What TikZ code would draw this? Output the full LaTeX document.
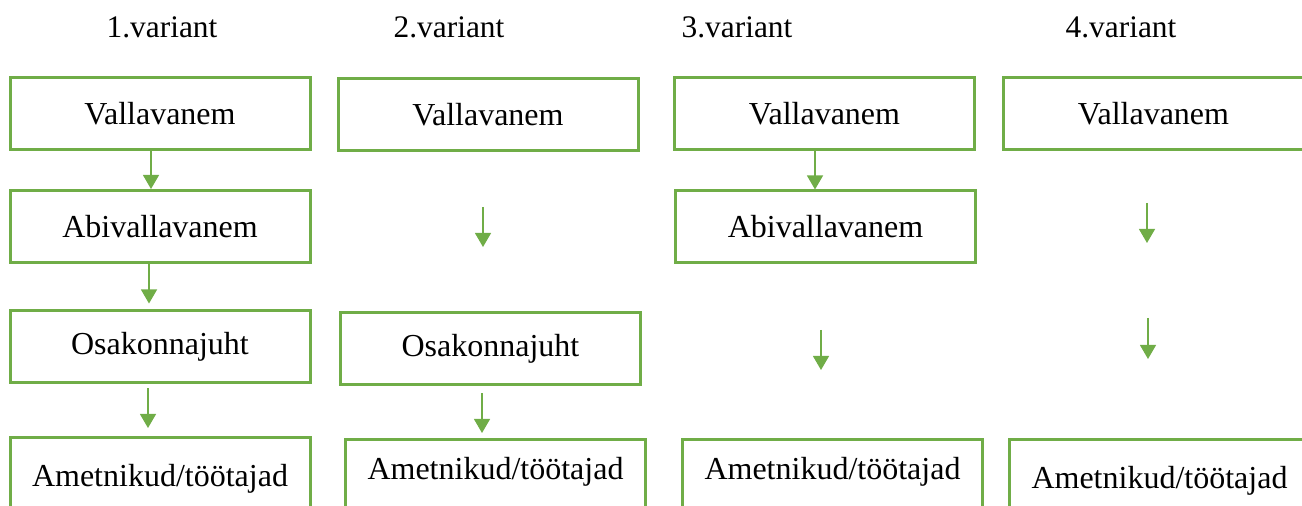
\documentclass[tikz,border=0pt]{standalone}
\usepackage{fontspec}
\setmainfont{Liberation Serif}
\usetikzlibrary{arrows.meta}
\definecolor{orggreen}{RGB}{112,173,71}
\tikzset{
  post/.style={draw=orggreen, line width=1.5pt, minimum width=150pt, minimum height=36pt, inner sep=0pt, font=\fontsize{16}{19}\selectfont},
  lowpost/.style={post, anchor=north, minimum height=100pt},
  down/.style={draw=orggreen, line width=0.6pt, -{Triangle[width=8pt,length=7pt]}},
  title/.style={font=\fontsize{15.7}{19}\selectfont}
}
\begin{document}
\begin{tikzpicture}[x=0.5pt,y=-0.5pt]
  \useasboundingbox (0,0) rectangle (1302,506);
  \clip (0,0) rectangle (1302,506);

  %titles
  \node[title] (h1) at (162,27) {1.variant};
  \node[title] (h2) at (449,27) {2.variant};
  \node[title] (h3) at (737,27) {3.variant};
  \node[title] (h4) at (1121,27) {4.variant};

  %1.variant
  \node[post] (v1) at (160,114) {Vallavanem};
  \node[post] (a1) at (160,226.5) {Abivallavanem};
  \node[post] (o1) at (160,347) {Osakonnajuht};
  \node[lowpost] (m1) at (160,436) {\raisebox{25.5pt}[0pt][0pt]{Ametnikud/töötajad}};
  \draw[down] ([xshift=-4.5pt]v1.south) -- ([xshift=-4.5pt]a1.north);
  \draw[down] ([xshift=-5.5pt]a1.south) -- ([xshift=-5.5pt,yshift=3pt]o1.north);
  \draw[down] ([xshift=-6pt,yshift=-2pt]o1.south) -- ([xshift=-6pt,yshift=4pt]m1.north);

  %2.variant
  \node[post] (v2) at (488,114.5) {Vallavanem};
  \node[post] (o2) at (490.5,349) {Osakonnajuht};
  \node[lowpost] (m2) at (495.5,438) {\raisebox{30pt}[0pt][0pt]{Ametnikud/töötajad}};
  \coordinate (f2a) at (483,207);
  \coordinate (f2b) at (483,247);
  \draw[down] (f2a) -- (f2b);
  \draw[down] ([xshift=-4.25pt,yshift=-3.5pt]o2.south) -- ([xshift=-6.75pt,yshift=2.5pt]m2.north);

  %3.variant
  \node[post] (v3) at (824.5,114) {Vallavanem};
  \node[post] (a3) at (825.5,227) {Abivallavanem};
  \node[lowpost] (m3) at (832.5,438) {\raisebox{30pt}[0pt][0pt]{Ametnikud/töötajad}};
  \draw[down] ([xshift=-4.75pt]v3.south) -- ([xshift=-5.25pt]a3.north);
  \coordinate (f3a) at (821,330);
  \coordinate (f3b) at (821,370);
  \draw[down] (f3a) -- (f3b);

  %4.variant
  \node[post] (v4) at (1153.5,114) {Vallavanem};
  \node[lowpost] (m4) at (1159.5,438) {\raisebox{25.5pt}[0pt][0pt]{Ametnikud/töötajad}};
  \coordinate (f4a) at (1147,203);
  \coordinate (f4b) at (1147,243);
  \draw[down] (f4a) -- (f4b);
  \coordinate (f4c) at (1148,318);
  \coordinate (f4d) at (1148,359);
  \draw[down] (f4c) -- (f4d);
\end{tikzpicture}
\end{document}
